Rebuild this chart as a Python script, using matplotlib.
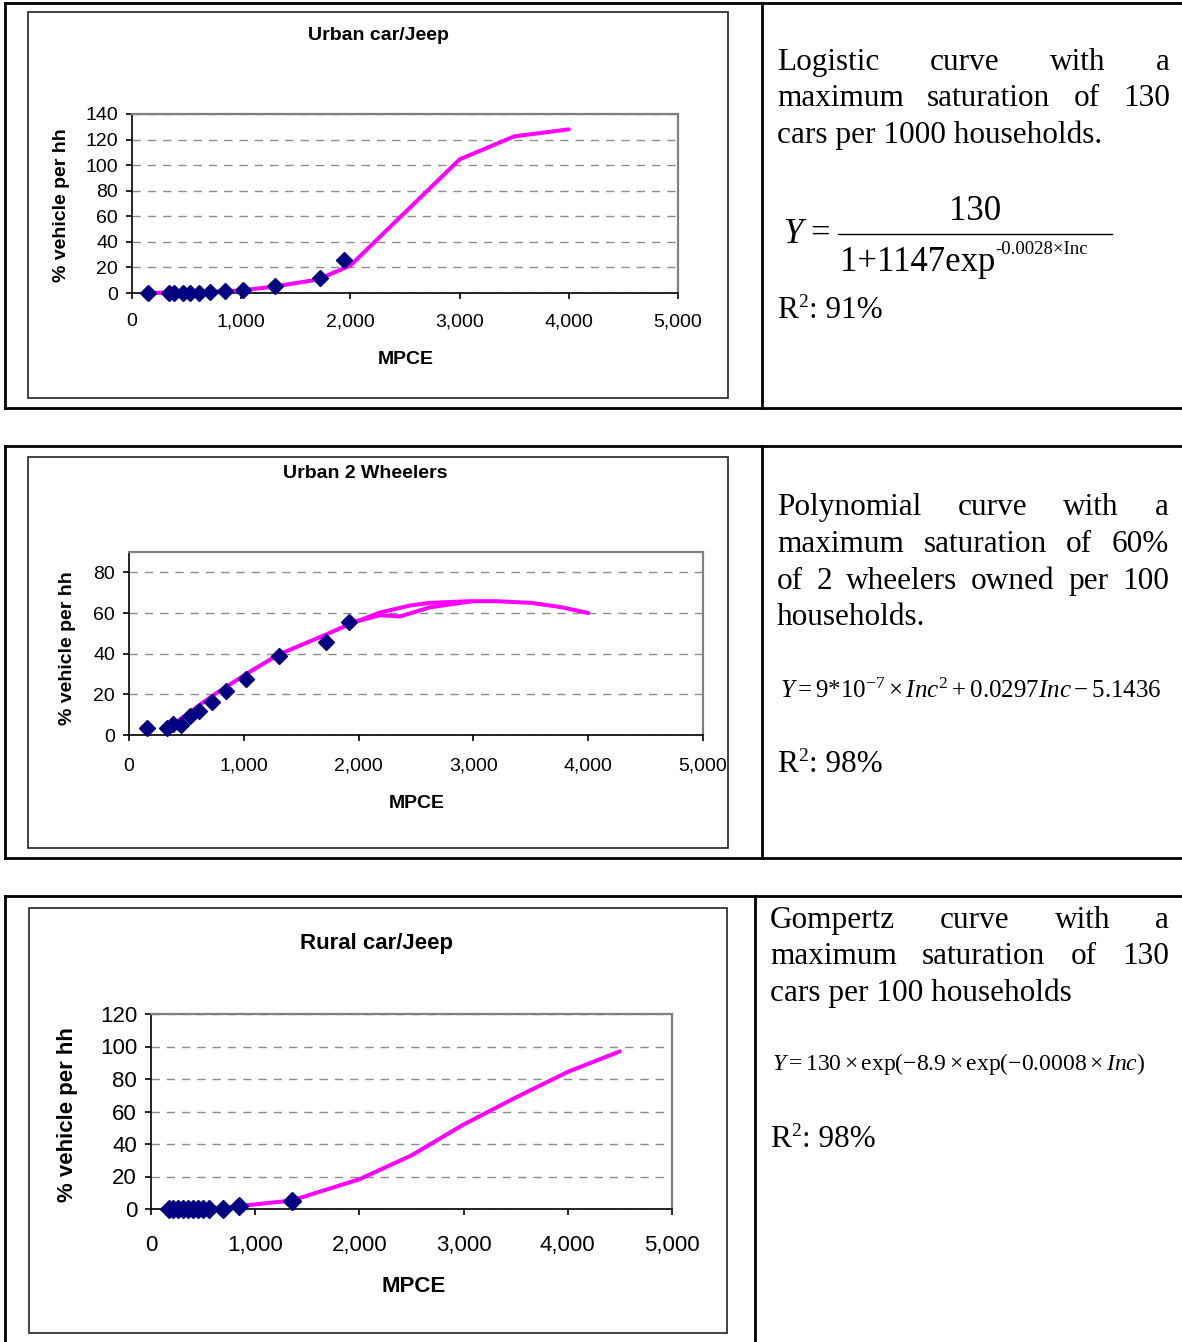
import matplotlib
matplotlib.use('Agg')
import matplotlib.pyplot as plt
from matplotlib.lines import Line2D
from matplotlib.patches import Rectangle
from matplotlib.ticker import FuncFormatter

W, H = 1182, 1342
SANS = 'Liberation Sans'
SERIF = 'Liberation Serif'

plt.rcParams['font.family'] = SANS
plt.rcParams['mathtext.fontset'] = 'custom'
plt.rcParams['mathtext.rm'] = SERIF
plt.rcParams['mathtext.it'] = SERIF + ':italic'

# urban car/jeep ownership vs MPCE
car_u_inc = [150, 335, 381, 465, 535, 615, 714, 852, 1021, 1314, 1720, 1938]
car_u_obs = [0, 0, 0, 0, 0, 0, 1.1, 1.3, 2.7, 5.6, 11.5, 26]
car_u_fit_inc = [150, 700, 1000, 1300, 1700, 2000, 2500, 3000, 3500, 4000]
car_u_fit = [0, 0.8, 2.0, 5.0, 10.5, 21.5, 63, 104.5, 122.5, 128]

# urban two wheelers
tw_inc = [154, 328, 385, 452, 530, 609, 724, 843, 1023, 1306, 1716, 1919]
tw_obs = [3.3, 3.3, 5.4, 4.9, 9.5, 11.9, 16.4, 21.8, 27.3, 38.7, 45.9, 55.6]
tw_fit_inc = [427, 724, 1023, 1300, 1716, 1919, 2186, 2448, 2622, 2970, 3200, 3500, 3750, 4000]
tw_fit = [7.0, 19.2, 30.1, 39.5, 49.4, 54.5, 60.2, 63.7, 65.0, 65.8, 65.8, 65.0, 63.0, 60.0]
tw_proj_inc = [1919, 2186, 2361, 2622, 2970]
tw_proj = [55.0, 58.9, 58.3, 62.8, 65.6]

# rural car/jeep
car_r_inc = [168, 215, 262, 310, 358, 405, 452, 500, 560, 687, 844, 1349]
car_r_obs = [0, 0, 0, 0, 0, 0, 0, 0, 0, 0, 2.0, 5.1]
car_r_fit_inc = [610, 844, 1349, 2000, 2500, 3000, 3500, 4000, 4500]
car_r_fit = [0.3, 1.8, 5.2, 18.3, 33, 52, 68.6, 84.4, 97]

fig = plt.figure(figsize=(W / 100, H / 100), dpi=100)
renderer = fig.canvas.get_renderer()


def fx(x):
    return x / W


def fy(y):
    return 1 - y / H


def hline(x0, x1, y, lw=2.0, color='black'):
    fig.add_artist(Line2D([fx(x0), fx(x1)], [fy(y), fy(y)], lw=lw, color=color))


def vline(x, y0, y1, lw=2.0, color='black'):
    fig.add_artist(Line2D([fx(x), fx(x)], [fy(y0), fy(y1)], lw=lw, color=color))


def frame(x0, y0, x1, y1):
    fig.add_artist(Rectangle((fx(x0), fy(y1)), fx(x1) - fx(x0), fy(y0) - fy(y1),
                             fill=False, lw=1.2, ec='#222222'))


def chart(box, inc, obs, fits, ymax, ystep, yhi, title, tpos, ylpos, xlpos,
          fs=14, ms=8.5, xpad=10):
    x0, y0, x1, y1 = box
    ax = fig.add_axes([fx(x0), fy(y1), fx(x1) - fx(x0), fy(y0) - fy(y1)])
    for fi, fv in fits:
        ax.plot(fi, fv, color='#FF00FF', lw=2.9, clip_on=False, zorder=3,
                solid_joinstyle='round', solid_capstyle='round')
    ax.plot(inc, obs, ls='none', marker='D', ms=ms, color='#000080',
            clip_on=False, zorder=4)
    ax.set_xlim(0, 5000)
    ax.set_ylim(0, yhi)
    ax.set_xticks(range(0, 5001, 1000))
    ax.set_yticks(range(0, ymax + 1, ystep))
    ax.xaxis.set_major_formatter(FuncFormatter(lambda v, p: f'{v:,.0f}'))
    ax.grid(axis='y', color='#8c8c8c', lw=1.0, ls=(0, (6, 5)))
    ax.set_axisbelow(True)
    for s in ('top', 'right'):
        ax.spines[s].set_color('#808080')
        ax.spines[s].set_linewidth(1.6)
    for s in ('left', 'bottom'):
        ax.spines[s].set_color('black')
        ax.spines[s].set_linewidth(1.2)
    ax.tick_params(axis='y', length=4, width=1.2, pad=6, labelsize=fs)
    ax.tick_params(axis='x', length=4.5, width=1.2, pad=xpad, labelsize=fs)
    fig.text(fx(tpos[0]), fy(tpos[1]), title, ha='center', va='center',
             fontsize=fs, fontweight='bold')
    fig.text(fx(ylpos[0]), fy(ylpos[1]), '% vehicle per hh', ha='center',
             va='center', rotation=90, fontsize=fs, fontweight='bold')
    fig.text(fx(xlpos[0]), fy(xlpos[1]), 'MPCE', ha='center', va='center',
             fontsize=fs, fontweight='bold')
    return ax


def justify(words, x0, x1, y, size=22.5):
    texts = [fig.text(0, 0, w, fontsize=size, family=SERIF, va='baseline')
             for w in words]
    widths = [t.get_window_extent(renderer).width for t in texts]
    gap = (x1 - x0 - sum(widths)) / max(len(words) - 1, 1)
    x = x0
    for t, w in zip(texts, widths):
        t.set_position((fx(x), fy(y)))
        x += w + gap


def left(s, x, y, size=22.5, **kw):
    t = fig.text(fx(x), fy(y), s, fontsize=size, family=SERIF, va='baseline', **kw)
    return x + t.get_window_extent(renderer).width


def r_squared(value, x, y):
    x = left('R', x, y)
    x = left('2', x, y - 11, size=14)
    left(': ' + value, x + 1, y)


# table rules
hline(5, W, 3)
hline(5, W, 408)
vline(5, 3, 408)
vline(762, 3, 408)
hline(5, W, 446)
hline(5, W, 858)
vline(5, 446, 858)
vline(762, 446, 858)
hline(5, W, 896)
vline(5, 896, H)
vline(755, 896, H)

# chart frames
frame(28, 12, 728, 398)
frame(28, 457, 728, 848)
frame(29, 908, 727, 1333)

chart((132, 114, 678, 293), car_u_inc, car_u_obs, [(car_u_fit_inc, car_u_fit)],
      140, 20, 140, 'Urban car/Jeep', (378, 36), (62, 205), (406, 360))
chart((129, 552, 703, 735), tw_inc, tw_obs,
      [(tw_fit_inc, tw_fit), (tw_proj_inc, tw_proj)],
      80, 20, 90, 'Urban 2 Wheelers', (365, 474), (68, 648), (417, 803), xpad=12)
chart((151, 1014, 672, 1209), car_r_inc, car_r_obs, [(car_r_fit_inc, car_r_fit)],
      120, 20, 120, 'Rural car/Jeep', (376, 943), (68, 1115), (414, 1286),
      fs=16, ms=9.5, xpad=14)

# row 1 description
justify(['Logistic', 'curve', 'with', 'a'], 777, 1170, 70)
justify(['maximum', 'saturation', 'of', '130'], 777, 1170, 106)
left('cars per 1000 households.', 777, 143)
left('Y', 783, 243, size=25, style='italic')
left('=', 810, 243, size=25)
hline(838, 1112, 234, lw=1.0)
fig.text(fx(975), fy(220), '130', fontsize=25, family=SERIF, va='baseline', ha='center')
xe = left('1+1147exp', 840, 271, size=25)
left('-0.0028\u00d7Inc', xe, 254, size=13.5)
r_squared('91%', 777, 318)

# row 2 description
justify(['Polynomial', 'curve', 'with', 'a'], 777, 1169, 515)
justify(['maximum', 'saturation', 'of', '60%'], 777, 1169, 552)
justify(['of', '2', 'wheelers', 'owned', 'per', '100'], 777, 1169, 589)
left('households.', 777, 625)
left(r'$Y=9{*}10^{-7}\times Inc^{2}+0.0297Inc-5.1436$', 780, 698, size=18)
r_squared('98%', 777, 772)

# row 3 description
justify(['Gompertz', 'curve', 'with', 'a'], 770, 1169, 928)
justify(['maximum', 'saturation', 'of', '130'], 770, 1169, 964)
left('cars per 100 households', 770, 1001)
left(r'$Y=130\times\mathrm{exp}(-8.9\times\mathrm{exp}(-0.0008\times Inc)$', 772, 1070, size=17)
r_squared('98%', 770, 1147)

fig.savefig('out.png', dpi=100)
